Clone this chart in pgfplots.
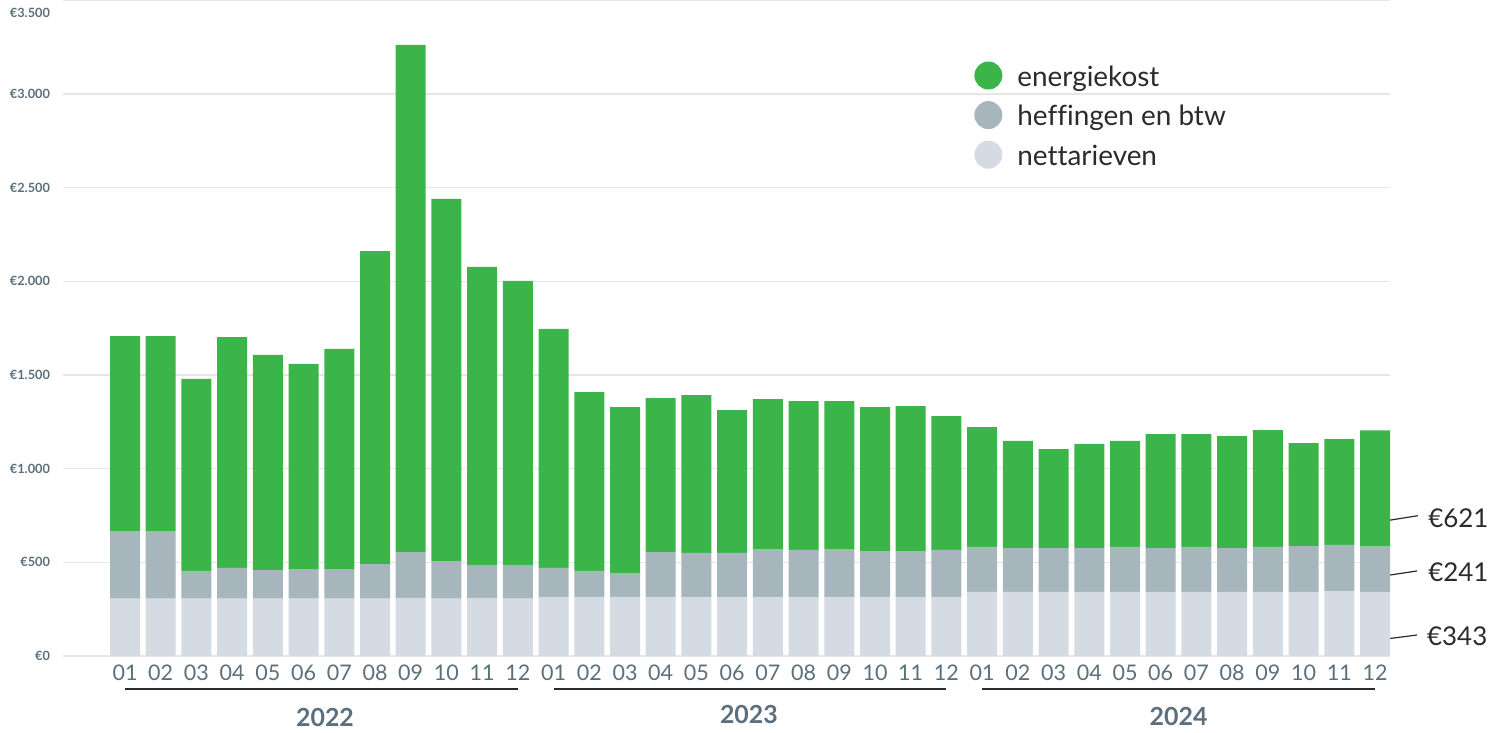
\documentclass[border=0pt]{standalone}
\usepackage{fontspec}
\setmainfont{Lato}[Ligatures=NoCommon]
\usepackage{pgfplots}
\pgfplotsset{compat=1.18}
\usepackage{pgfplotstable}
\definecolor{energie}{HTML}{3BB54A}
\definecolor{heff}{HTML}{A7B5BD}
\definecolor{nett}{HTML}{D4DBE2}
\definecolor{gridc}{HTML}{E6E6E6}
\definecolor{ticktxt}{HTML}{5B6F7C}
\definecolor{txt}{HTML}{2B2B2B}

\pgfplotstableread{
x net heff energie
0 306 361 1041
1 306 361 1041
2 306 148 1025
3 306 164 1233
4 306 153 1148
5 306 158 1095
6 306 158 1175
7 306 185 1671
8 310 245 2707
9 306 201 1933
10 310 176 1591
11 306 180 1516
12 315 155 1276
13 315 139 955
14 315 128 886
15 315 240 822
16 315 235 843
17 315 235 763
18 315 256 801
19 315 251 795
20 315 256 790
21 315 245 769
22 315 245 774
23 315 251 715
24 343 239 640
25 343 233 572
26 343 233 529
27 343 233 556
28 343 239 566
29 343 233 609
30 343 239 603
31 343 233 598
32 343 239 624
33 343 244 550
34 347 246 565
35 343 241 621
}\data

\begin{document}
\begin{tikzpicture}
\begin{axis}[
  at={(31.5bp,38.5bp)}, anchor=south west,
  scale only axis, width=663.5bp, height=327.8bp,
  xmin=-1.736, xmax=35.42, ymin=0, ymax=3500,
  ybar stacked, bar width=0.84,
  axis line style={draw=none}, major tick length=0pt,
  ytick={0,500,...,3000},
  yticklabels={€0,€500,€1.000,€1.500,€2.000,€2.500,€3.000},
  extra y ticks={3500}, extra y tick labels={€3.500},
  extra y tick style={grid=major, yticklabel style={yshift=-6bp}},
  ymajorgrids, grid style={gridc, line width=0.6bp},
  yticklabel style={font=\bfseries\fontsize{6.4}{7}\selectfont, text=ticktxt, anchor=east, xshift=-3bp},
  xtick={0,...,35},
  xticklabels={01,02,03,04,05,06,07,08,09,10,11,12,01,02,03,04,05,06,07,08,09,10,11,12,01,02,03,04,05,06,07,08,09,10,11,12},
  xticklabel style={font=\fontsize{10.8}{12}\selectfont, text=ticktxt, yshift=-1bp},
  clip=false,
  legend image code/.code={\fill[#1] (7bp,1bp) circle (7bp);},
  reverse legend,
  legend cell align=left,
  legend style={at={(0.6865,0.9074)}, anchor=north west, draw=none, fill=none,
    inner sep=0pt, row sep=5.8bp, column sep=7.5bp,
    font=\fontsize{14}{16}\selectfont, text=txt, nodes={inner sep=0pt}},
]
\addplot[fill=nett, draw=none] table[x=x, y=net] {\data};
\addlegendentry{nettarieven}
\addplot[fill=heff, draw=none] table[x=x, y=heff] {\data};
\addlegendentry{heffingen en btw}
\addplot[fill=energie, draw=none] table[x=x, y=energie] {\data};
\addlegendentry{energiekost}

% year brackets
\draw[txt, line width=0.75bp] ([yshift=-16.5bp]axis cs:0,0) -- ([yshift=-16.5bp]axis cs:11,0);
\draw[txt, line width=0.75bp] ([yshift=-16.5bp]axis cs:12,0) -- ([yshift=-16.5bp]axis cs:23,0);
\draw[txt, line width=0.75bp] ([yshift=-16.5bp]axis cs:24,0) -- ([yshift=-16.5bp]axis cs:35,0);
\node[font=\bfseries\fontsize{12.5}{14}\selectfont, text=ticktxt] at ([yshift=-30.5bp]axis cs:5.6,0) {2022};
\node[font=\bfseries\fontsize{12.5}{14}\selectfont, text=ticktxt] at ([yshift=-29bp]axis cs:17.47,0) {2023};
\node[font=\bfseries\fontsize{12.5}{14}\selectfont, text=ticktxt] at ([yshift=-30bp]axis cs:29.5,0) {2024};

% annotations
\draw[txt, line width=0.6bp] (axis cs:35.08,715) -- (axis cs:36.2,749);
\node[anchor=west, inner sep=0pt, font=\fontsize{13}{15}\selectfont, text=txt] at (axis cs:36.48,737) {€621};
\draw[txt, line width=0.6bp] (axis cs:35.06,422) -- (axis cs:36.18,454);
\node[anchor=west, inner sep=0pt, font=\fontsize{13}{15}\selectfont, text=txt] at (axis cs:36.48,448) {€241};
\draw[txt, line width=0.6bp] (axis cs:35.06,85) -- (axis cs:36.18,112);
\node[anchor=west, inner sep=0pt, font=\fontsize{13}{15}\selectfont, text=txt] at (axis cs:36.45,107) {€343};
\end{axis}
\pgfresetboundingbox
\path[use as bounding box] (0,0) rectangle (750bp,366.5bp);
\end{tikzpicture}
\end{document}
